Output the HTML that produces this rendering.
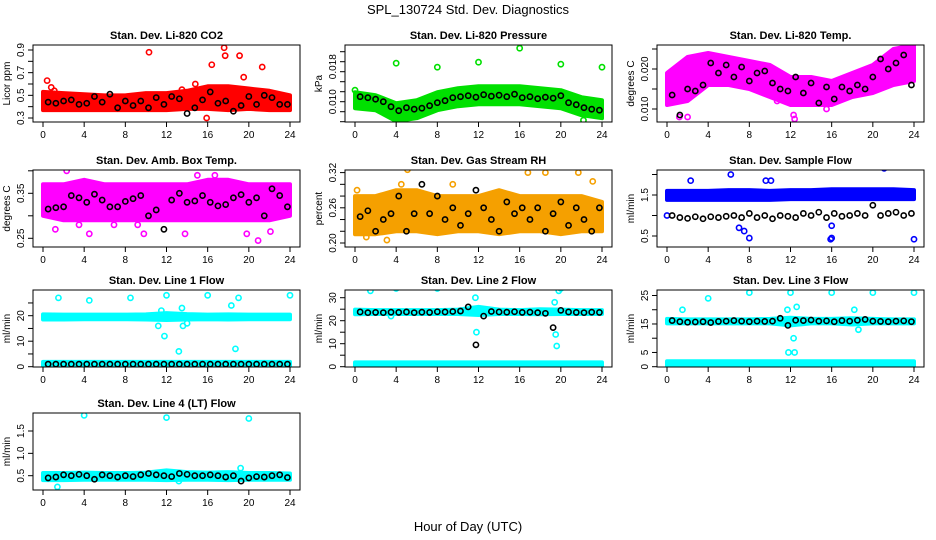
<!DOCTYPE html>
<html><head><meta charset="utf-8"><style>
body{margin:0;background:#fff;}
svg{display:block;font-family:"Liberation Sans",sans-serif;}
</style></head><body>
<svg id="chart" width="936" height="540" viewBox="0 0 936 540">
<text x="468" y="14" text-anchor="middle" font-size="13">SPL_130724  Std. Dev. Diagnostics</text>
<text x="468" y="531" text-anchor="middle" font-size="13">Hour of Day (UTC)</text>
</svg>
<script>
const bandHours=[0,2,4,6,8,10,12,14,16,18,20,22,24];
const blackHours=[0.5,1.25,2,2.75,3.5,4.25,5,5.75,6.5,7.25,8,8.75,9.5,10.25,11,11.75,12.5,13.25,14,14.75,15.5,16.25,17,17.75,18.5,19.25,20,20.75,21.5,22.25,23,23.75];
const xTicks=[0,4,8,12,16,20,24];

const co2Lo=[0.37,0.37,0.37,0.37,0.37,0.37,0.37,0.38,0.38,0.37,0.38,0.37,0.37];
const co2Hi=[0.53,0.52,0.51,0.50,0.50,0.52,0.52,0.54,0.58,0.58,0.56,0.54,0.50];
const co2Black=[0.44,0.43,0.45,0.46,0.42,0.43,0.49,0.44,0.51,0.39,0.45,0.41,0.45,0.39,0.48,0.42,0.49,0.47,0.34,0.39,0.46,0.53,0.43,0.45,0.36,0.41,0.49,0.42,0.50,0.48,0.42,0.42];
const co2OutX=[0.4,0.8,10.3,16.4,17.6,17.7,19.1,21.3,15.9,19.5,14.8,1.1,13.5];
const co2OutY=[0.63,0.57,0.88,0.77,0.92,0.85,0.85,0.75,0.30,0.66,0.60,0.54,0.55];

const presLo=[0.0087,0.0083,0.0061,0.0067,0.0083,0.0091,0.0095,0.0095,0.0095,0.0091,0.0087,0.0073,0.0067];
const presHi=[0.0119,0.0113,0.0097,0.0103,0.0119,0.0127,0.0131,0.0131,0.0131,0.0127,0.0123,0.0109,0.0103];
const presBlack=[0.0110,0.0108,0.0105,0.0100,0.0090,0.0082,0.0088,0.0085,0.0087,0.0092,0.0098,0.0102,0.0108,0.0110,0.0112,0.0109,0.0114,0.0111,0.0113,0.0110,0.0115,0.0108,0.0110,0.0106,0.0109,0.0107,0.0112,0.0098,0.0094,0.0088,0.0085,0.0083];
const presOutX=[0,4,8,12,16,20,24,22.2];
const presOutY=[0.0123,0.0177,0.0169,0.0179,0.0207,0.0175,0.0169,0.0063];

const tempLo=[0.011,0.012,0.016,0.016,0.015,0.013,0.011,0.011,0.011,0.013,0.014,0.016,0.017];
const tempHi=[0.019,0.023,0.024,0.023,0.022,0.021,0.018,0.018,0.017,0.019,0.021,0.025,0.026];
const tempBlack=[0.0135,0.0085,0.0150,0.0145,0.0160,0.0215,0.0190,0.0210,0.0180,0.0205,0.0170,0.0190,0.0195,0.0165,0.0150,0.0145,0.0180,0.0140,0.0165,0.0115,0.0155,0.0125,0.0155,0.0145,0.0160,0.0150,0.0180,0.0225,0.0200,0.0215,0.0235,0.0160];
const tempOutX=[1.2,2,12.4,12.3,15.5,10.7];
const tempOutY=[0.008,0.008,0.0075,0.0085,0.010,0.012];

const ambLo=[0.30,0.29,0.29,0.29,0.29,0.29,0.29,0.29,0.29,0.29,0.29,0.29,0.30];
const ambHi=[0.37,0.37,0.38,0.37,0.37,0.37,0.37,0.37,0.38,0.38,0.37,0.37,0.37];
const ambBlack=[0.315,0.318,0.320,0.345,0.340,0.330,0.348,0.335,0.320,0.320,0.332,0.338,0.345,0.300,0.313,0.270,0.335,0.350,0.330,0.333,0.345,0.330,0.322,0.325,0.340,0.347,0.330,0.340,0.300,0.360,0.345,0.320];
const ambOutX=[1.2,4.5,6.9,9.8,13.8,19.8,20.9,3.5,9.2,22.1,15,16.7,2.3];
const ambOutY=[0.27,0.26,0.28,0.26,0.26,0.26,0.245,0.28,0.28,0.265,0.39,0.39,0.40];

const rhLo=[0.215,0.215,0.22,0.22,0.215,0.22,0.22,0.215,0.22,0.22,0.215,0.22,0.22];
const rhHi=[0.28,0.28,0.29,0.29,0.28,0.28,0.28,0.29,0.28,0.28,0.28,0.28,0.27];
const rhBlack=[0.245,0.255,0.22,0.24,0.25,0.28,0.22,0.25,0.30,0.25,0.28,0.24,0.26,0.23,0.25,0.29,0.26,0.24,0.22,0.27,0.25,0.26,0.24,0.26,0.22,0.25,0.27,0.23,0.26,0.24,0.22,0.26];
const rhOutX=[5.1,18.5,21.7,23.1,0.2,1.1,3.1,16.8,4.5,9.5];
const rhOutY=[0.325,0.32,0.32,0.305,0.29,0.21,0.205,0.32,0.30,0.30];

const sfLo=[1.38,1.38,1.38,1.38,1.38,1.38,1.40,1.40,1.40,1.40,1.40,1.40,1.40];
const sfHi=[1.60,1.60,1.60,1.62,1.62,1.60,1.62,1.62,1.64,1.64,1.64,1.64,1.62];
const sfBlack=[1.0,0.95,0.93,0.97,0.92,0.97,0.95,0.98,1.0,0.95,1.05,0.95,1.0,0.92,1.0,0.98,0.95,1.05,1.0,1.08,0.95,1.05,0.98,1.0,1.05,1.0,1.25,1.0,1.05,1.08,1.0,1.05];
const sfOutX=[0,2.3,6.2,7.5,8,9.6,10.1,16,16,21.1,24,7,15.9];
const sfOutY=[1.0,1.85,2.0,0.62,0.45,1.85,1.85,0.45,0.75,2.15,0.42,0.7,0.42];

const l1Lo=[18.5,18.5,18.6,18.6,18.6,18.5,18.3,18.5,18.6,18.5,18.6,18.6,18.6];
const l1Hi=[20.5,20.4,20.4,20.4,20.4,20.5,21.0,20.6,20.4,20.5,20.4,20.4,20.4];
const l1Black=[1,1,1,1,1,1,1,1,1,1,1,1,1,1,1,1,1,1,1,1,1,1,1,1,1,1,1,1,1,1,1,1];
const l1OutX=[1.5,4.5,8.5,12,16,19,24,11.5,11.8,13.6,13.7,14,18.3,18.7,13.2,13.5,11.2];
const l1OutY=[27,26,27,28,28,27,28,22,12,16,20,17,24,7,6,23,16];

const l2Lo=[22.8,22.9,22.9,22.9,22.9,22.9,22.5,22.9,22.9,22.8,22.9,22.9,22.9];
const l2Hi=[24.8,24.6,24.6,24.6,24.6,24.8,26.0,24.8,24.6,25.0,24.8,24.6,24.6];
const l2Black=[23.8,23.5,23.6,23.5,23.7,23.6,23.8,23.5,23.7,23.6,23.9,23.8,24.0,24.2,26.0,9.5,22.0,24.0,23.8,23.7,23.9,23.6,23.7,23.5,23.2,17.0,24.5,23.8,23.6,23.5,23.7,23.6];
const l2OutX=[1.5,4,8,12,16,20,24,3.5,11.7,11.8,19.5,19.6,19.4,19.8];
const l2OutY=[33,34,34,35,35,34,35,22,30,15,14,9,28,33];

const l3Lo=[15.2,15.2,15.2,15.2,15.2,15.2,14.5,15.2,15.2,14.8,15.2,15.2,15.2];
const l3Hi=[16.8,16.6,16.6,16.6,16.6,16.8,17.2,16.8,16.8,17.0,16.8,16.6,16.6];
const l3Black=[16.2,15.8,15.6,15.7,15.8,15.5,15.9,16.0,16.2,16.0,15.8,16.0,15.9,16.0,17.0,14.5,16.3,16.2,16.4,16.0,16.1,15.8,16.2,16.0,16.3,16.6,16.0,15.9,15.8,16.0,16.1,15.8];
const l3OutX=[1.5,4,8,12,16,20,24,11.7,11.8,12.3,12.4,12.6,18.2,18.6];
const l3OutY=[20,24,26,26,26,26,26,20,5,10,5,21,20,13];

const l4Lo=[0.40,0.40,0.41,0.41,0.41,0.41,0.40,0.41,0.41,0.40,0.41,0.41,0.41];
const l4Hi=[0.56,0.56,0.57,0.56,0.56,0.57,0.62,0.58,0.57,0.58,0.56,0.56,0.55];
const l4Black=[0.45,0.47,0.52,0.50,0.53,0.50,0.42,0.52,0.50,0.47,0.50,0.48,0.52,0.55,0.52,0.50,0.48,0.55,0.53,0.50,0.50,0.52,0.50,0.47,0.50,0.38,0.45,0.48,0.47,0.50,0.52,0.46];
const l4OutX=[4,12,20,19.2,1.4,13.2];
const l4OutY=[1.85,1.8,1.78,0.67,0.25,0.38];

const lowLo=[0.3,0.3,0.3,0.3,0.3,0.3,0.3,0.3,0.3,0.3,0.3,0.3,0.3];
const lowHi=[1.9,1.9,1.9,1.9,1.9,1.9,1.9,1.9,1.9,1.9,1.9,1.9,1.9];

const NS='http://www.w3.org/2000/svg';
const svg=document.getElementById('chart');
const rowTops=[45,170,290,413];
function mk(tag,attrs,parent){const e=document.createElementNS(NS,tag);for(const k in attrs)e.setAttribute(k,attrs[k]);(parent||svg).appendChild(e);return e;}

function panel(col,row,key,title,ylab,v1,p1,v2,p2,yTicks,yLabVals,yLabTxt,color,lo,hi,black,ox,oy,low){
  const L=33+312*col, R=L+267, T=rowTops[row], B=T+77;
  const g=mk('g',{});
  
  
  const xs=h=>L+10+h*(247/24);
  const ys=v=>T+p1+(v-v1)*(p2-p1)/(v2-v1);
  const t=mk('text',{x:(L+R)/2,y:T-6,'text-anchor':'middle','font-size':'11','font-weight':'bold'},g);
  t.textContent=title;
  
  
  const cp=mk('clipPath',{id:'cp'+key},g);mk('rect',{x:L,y:T,width:267,height:77},cp);
  const pg=mk('g',{'clip-path':'url(#cp'+key+')'},g);
  function band(a,b,name){
    let d='';bandHours.forEach((h,i)=>{d+=(i?'L':'M')+xs(h)+','+ys(b[i]);});
    for(let i=bandHours.length-1;i>=0;i--)d+='L'+xs(bandHours[i])+','+ys(a[i]);
    const p=mk('path',{d:d+'Z',fill:color,stroke:color,'stroke-width':4,'stroke-linejoin':'round'},pg);
    
    
  }
  band(lo,hi,key+'-band');
  if(low)band(lowLo,lowHi,key+'-low-band');
  ox.forEach((h,i)=>{const c=mk('circle',{cx:xs(h),cy:ys(oy[i]),r:2.6,fill:'none',stroke:color,'stroke-width':1.6},pg);
    
    });
  black.forEach((v,i)=>{const c=mk('circle',{cx:xs(blackHours[i]),cy:ys(v),r:2.6,fill:'none',stroke:'#000','stroke-width':1.6},pg);
    
    });
  const box=mk('rect',{x:L,y:T,width:267,height:77,fill:'none',stroke:'#000','stroke-width':1},g);
  
  
  xTicks.forEach(h=>{mk('line',{x1:xs(h),x2:xs(h),y1:B,y2:B+5,stroke:'#000'},g);
    const tx=mk('text',{x:xs(h),y:B+16,'text-anchor':'middle','font-size':'10'},g);tx.textContent=h;
    
    });
  yTicks.forEach(v=>{mk('line',{x1:L,x2:L-5,y1:ys(v),y2:ys(v),stroke:'#000'},g);});
  yLabVals.forEach((v,i)=>{const y=ys(v);const tx=mk('text',{x:L-9,y:y,'text-anchor':'middle','font-size':'10',transform:'rotate(-90 '+(L-9)+' '+y+')'},g);
    tx.textContent=yLabTxt[i];
    
    });
  const yl=mk('text',{x:L-23,y:(T+B)/2,'text-anchor':'middle','font-size':'10',transform:'rotate(-90 '+(L-23)+' '+((T+B)/2)+')'},g);
  yl.textContent=ylab;
  
  
}

panel(0,0,'co2','Stan. Dev. Li-820 CO2','Licor ppm',0.3,73,0.9,5,[0.3,0.4,0.5,0.6,0.7,0.8,0.9],[0.3,0.5,0.7,0.9],['0.3','0.5','0.7','0.9'],'#ff0000',co2Lo,co2Hi,co2Black,co2OutX,co2OutY,false);
panel(1,0,'pressure','Stan. Dev. Li-820 Pressure','kPa',0.010,56.7,0.018,16.7,[0.006,0.008,0.010,0.012,0.014,0.016,0.018,0.020],[0.0100,0.0170],['0.010','0.018'],'#00e000',presLo,presHi,presBlack,presOutX,presOutY,false);
panel(2,0,'li820-temp','Stan. Dev. Li-820 Temp.','degrees C',0.010,64,0.020,24,[0.010,0.015,0.020,0.025],[0.010,0.020],['0.010','0.020'],'#ff00ff',tempLo,tempHi,tempBlack,tempOutX,tempOutY,false);
panel(0,1,'amb-box-temp','Stan. Dev. Amb. Box Temp.','degrees C',0.25,68.3,0.35,23.3,[0.25,0.30,0.35,0.40],[0.25,0.35],['0.25','0.35'],'#ff00ff',ambLo,ambHi,ambBlack,ambOutX,ambOutY,false);
panel(1,1,'gas-rh','Stan. Dev. Gas Stream RH','percent',0.20,73,0.32,2.6,[0.20,0.22,0.24,0.26,0.28,0.30,0.32],[0.20,0.26,0.32],['0.20','0.26','0.32'],'#f5a000',rhLo,rhHi,rhBlack,rhOutX,rhOutY,false);
panel(2,1,'sample-flow','Stan. Dev. Sample Flow','ml/min',0.5,66,1.5,25,[0.5,1.0,1.5,2.0],[0.5,1.5],['0.5','1.5'],'#0000ff',sfLo,sfHi,sfBlack,sfOutX,sfOutY,false);
panel(0,2,'line1-flow','Stan. Dev. Line 1 Flow','ml/min',0,76.7,20,25.7,[0,5,10,15,20,25],[0,10,20],['0','10','20'],'#00ffff',l1Lo,l1Hi,l1Black,l1OutX,l1OutY,true);
panel(1,2,'line2-flow','Stan. Dev. Line 2 Flow','ml/min',0,76.7,30,7.7,[0,5,10,15,20,25,30],[0,10,20,30],['0','10','20','30'],'#00ffff',l2Lo,l2Hi,l2Black,l2OutX,l2OutY,true);
panel(2,2,'line3-flow','Stan. Dev. Line 3 Flow','ml/min',0,76.7,25,5.5,[0,5,10,15,20,25],[0,5,15,25],['0','5','15','25'],'#00ffff',l3Lo,l3Hi,l3Black,l3OutX,l3OutY,true);
panel(0,3,'line4-flow','Stan. Dev. Line 4 (LT) Flow','ml/min',0.5,62.7,1.5,18,[0.5,1.0,1.5],[0.5,1.0,1.5],['0.5','1.0','1.5'],'#00ffff',l4Lo,l4Hi,l4Black,l4OutX,l4OutY,false);
</script>
</body></html>
